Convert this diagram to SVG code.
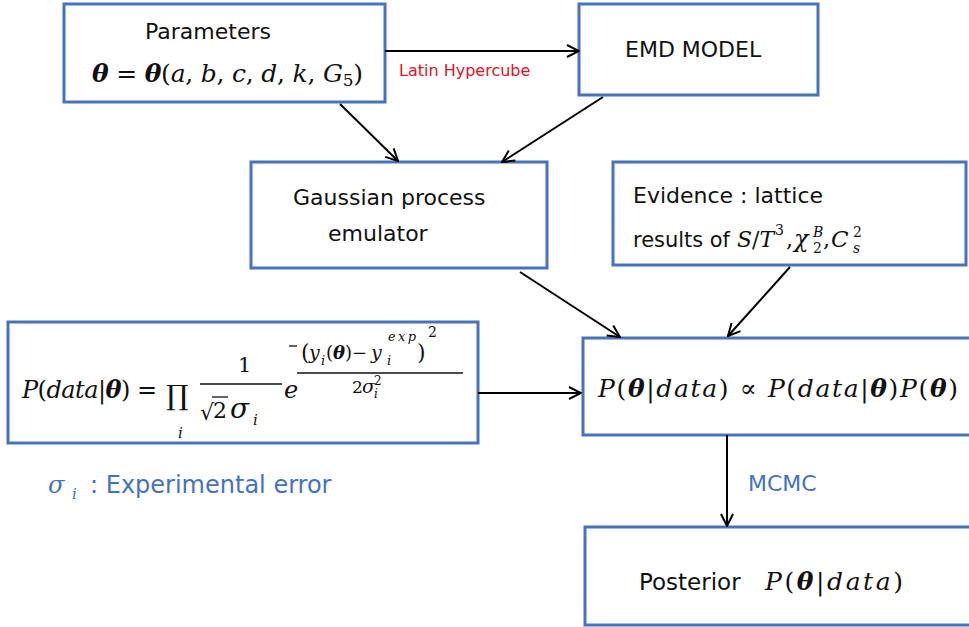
<svg xmlns="http://www.w3.org/2000/svg" width="969" height="627" viewBox="0 0 969 627">
<defs>
<style>
.box{fill:#fff;stroke:#4472C4;stroke-width:3}
.sans{font-family:"DejaVu Sans",Verdana,sans-serif;fill:#111}
.m{font-family:"DejaVu Serif","Liberation Serif",serif;font-style:italic;fill:#111}
.up{font-style:normal}
.bf{font-weight:bold}
.blue{fill:#4472C4}
.red{fill:#E3121C}
.conn line{stroke:#000;stroke-width:2;marker-end:url(#arr)}
.rule{stroke:#111;stroke-width:1.3}
</style>
<marker id="arr" viewBox="0 0 14 14" refX="13" refY="7" markerWidth="14" markerHeight="14" markerUnits="userSpaceOnUse" orient="auto">
<path d="M1,1 L13,7 L1,13" fill="none" stroke="#000" stroke-width="2"/>
</marker>
</defs>
<rect width="969" height="627" fill="#fff"/>

<g id="params">
<rect class="box" x="64" y="4" width="321" height="98"/>
<text class="sans" x="208" y="39" text-anchor="middle" font-size="22">Parameters</text>
<text class="m" x="92" y="82" font-size="25" textLength="271" lengthAdjust="spacing"><tspan class="bf">θ</tspan><tspan class="up"> =  </tspan><tspan class="bf">θ</tspan><tspan class="up">(</tspan>a<tspan class="up">, </tspan>b<tspan class="up">, </tspan>c<tspan class="up">, </tspan>d<tspan class="up">, </tspan>k<tspan class="up">, </tspan>G<tspan class="up" font-size="17" dy="4">5</tspan><tspan class="up" dy="-4">)</tspan></text>
</g>

<g id="emd">
<rect class="box" x="579" y="4" width="239" height="91"/>
<text class="sans" x="625" y="57" font-size="22">EMD MODEL</text>
</g>

<g id="gp">
<rect class="box" x="251" y="162" width="296" height="106"/>
<text class="sans" x="293" y="205" font-size="22">Gaussian process</text>
<text class="sans" x="328" y="241" font-size="22">emulator</text>
</g>

<g id="evidence">
<rect class="box" x="613" y="162" width="353" height="103"/>
<text class="sans" x="633" y="203" font-size="22">Evidence : lattice</text>
<text class="sans" x="633" y="247" font-size="22" textLength="97" lengthAdjust="spacingAndGlyphs">results of</text>
<text class="m" x="737" y="247" font-size="22">S<tspan class="up">/</tspan>T</text>
<text class="m up" x="775" y="235" font-size="14">3</text>
<text class="m up" x="786" y="247" font-size="22">,</text>
<text class="m" x="794" y="247" font-size="24">χ</text>
<text class="m" x="813" y="237" font-size="14">B</text>
<text class="m up" x="813" y="253" font-size="14">2</text>
<text class="m up" x="823" y="247" font-size="22">,</text>
<text class="m" x="831" y="247" font-size="23">C</text>
<text class="m up" x="853" y="237" font-size="14">2</text>
<text class="m" x="853" y="253" font-size="14">s</text>
</g>

<g id="likelihood">
<rect class="box" x="8" y="322" width="470" height="121"/>
<text class="m" x="22" y="398" font-size="24" textLength="135" lengthAdjust="spacing">P<tspan class="up">(</tspan>data<tspan class="up">|</tspan><tspan class="bf">θ</tspan><tspan class="up">) =</tspan></text>
<text class="m up" x="166" y="405" font-size="28">∏</text>
<text class="m" x="178" y="438" font-size="15">i</text>
<text class="m up" x="238" y="372" font-size="21">1</text>
<line class="rule" x1="200" y1="384" x2="282" y2="384"/>
<text class="m up" x="200" y="420" font-size="22">√</text>
<line class="rule" x1="212" y1="397" x2="228" y2="397"/>
<text class="m up" x="213" y="418" font-size="22">2</text>
<text class="m" x="230" y="418" font-size="28">σ</text>
<text class="m" x="253" y="425" font-size="15">i</text>
<text class="m" x="284" y="398" font-size="24">e</text>
<line class="rule" x1="289" y1="346" x2="297" y2="346"/>
<text class="m up" x="301" y="360" font-size="22">(</text>
<text class="m" x="309" y="359" font-size="19">y</text>
<text class="m" x="321" y="365" font-size="13">i</text>
<text class="m up" x="326" y="359" font-size="18">(<tspan class="m bf">θ</tspan>)−</text>
<text class="m" x="371" y="359" font-size="19">y</text>
<text class="m" x="388" y="341" font-size="13" textLength="28" lengthAdjust="spacing">exp</text>
<text class="m" x="387" y="365" font-size="13">i</text>
<text class="m up" x="417" y="360" font-size="22">)</text>
<text class="m up" x="428" y="337" font-size="14">2</text>
<line class="rule" x1="297" y1="373" x2="463" y2="373"/>
<text class="m up" x="352" y="393" font-size="17">2</text>
<text class="m" x="362" y="393" font-size="19">σ</text>
<text class="m up" x="374" y="385" font-size="12">2</text>
<text class="m" x="374" y="398" font-size="12">i</text>
</g>

<g id="posterior-eq">
<rect class="box" x="583" y="338" width="400" height="97"/>
<text class="m" x="598" y="397" font-size="25" textLength="360" lengthAdjust="spacing">P<tspan class="up">(</tspan><tspan class="bf">θ</tspan><tspan class="up">|</tspan>data<tspan class="up">) ∝ </tspan>P<tspan class="up">(</tspan>data<tspan class="up">|</tspan><tspan class="bf">θ</tspan><tspan class="up">)</tspan>P<tspan class="up">(</tspan><tspan class="bf">θ</tspan><tspan class="up">)</tspan></text>
</g>

<g id="posterior">
<rect class="box" x="585" y="527" width="400" height="98"/>
<text class="sans" x="639" y="590" font-size="23">Posterior</text>
<text class="m" x="765" y="590" font-size="25" textLength="138" lengthAdjust="spacing">P<tspan class="up">(</tspan><tspan class="bf">θ</tspan><tspan class="up">|</tspan>data<tspan class="up">)</tspan></text>
</g>

<g id="legend">
<text class="m blue" x="48" y="493" font-size="24">σ</text>
<text class="m blue" x="72" y="499" font-size="15">i</text>
<text class="sans blue" x="90" y="493" font-size="24">: Experimental error</text>
</g>

<g id="connectors" class="conn">
<line x1="385" y1="51" x2="579" y2="51"/>
<line x1="340" y1="104" x2="398" y2="161"/>
<line x1="603" y1="97" x2="502" y2="162"/>
<line x1="520" y1="272" x2="620" y2="337"/>
<line x1="790" y1="267" x2="728" y2="336"/>
<line x1="478" y1="393" x2="581" y2="393"/>
<line x1="727" y1="435" x2="727" y2="526"/>
</g>
<text class="sans red" x="399" y="76" font-size="16">Latin Hypercube</text>
<text class="sans blue" x="748" y="491" font-size="22">MCMC</text>
</svg>
